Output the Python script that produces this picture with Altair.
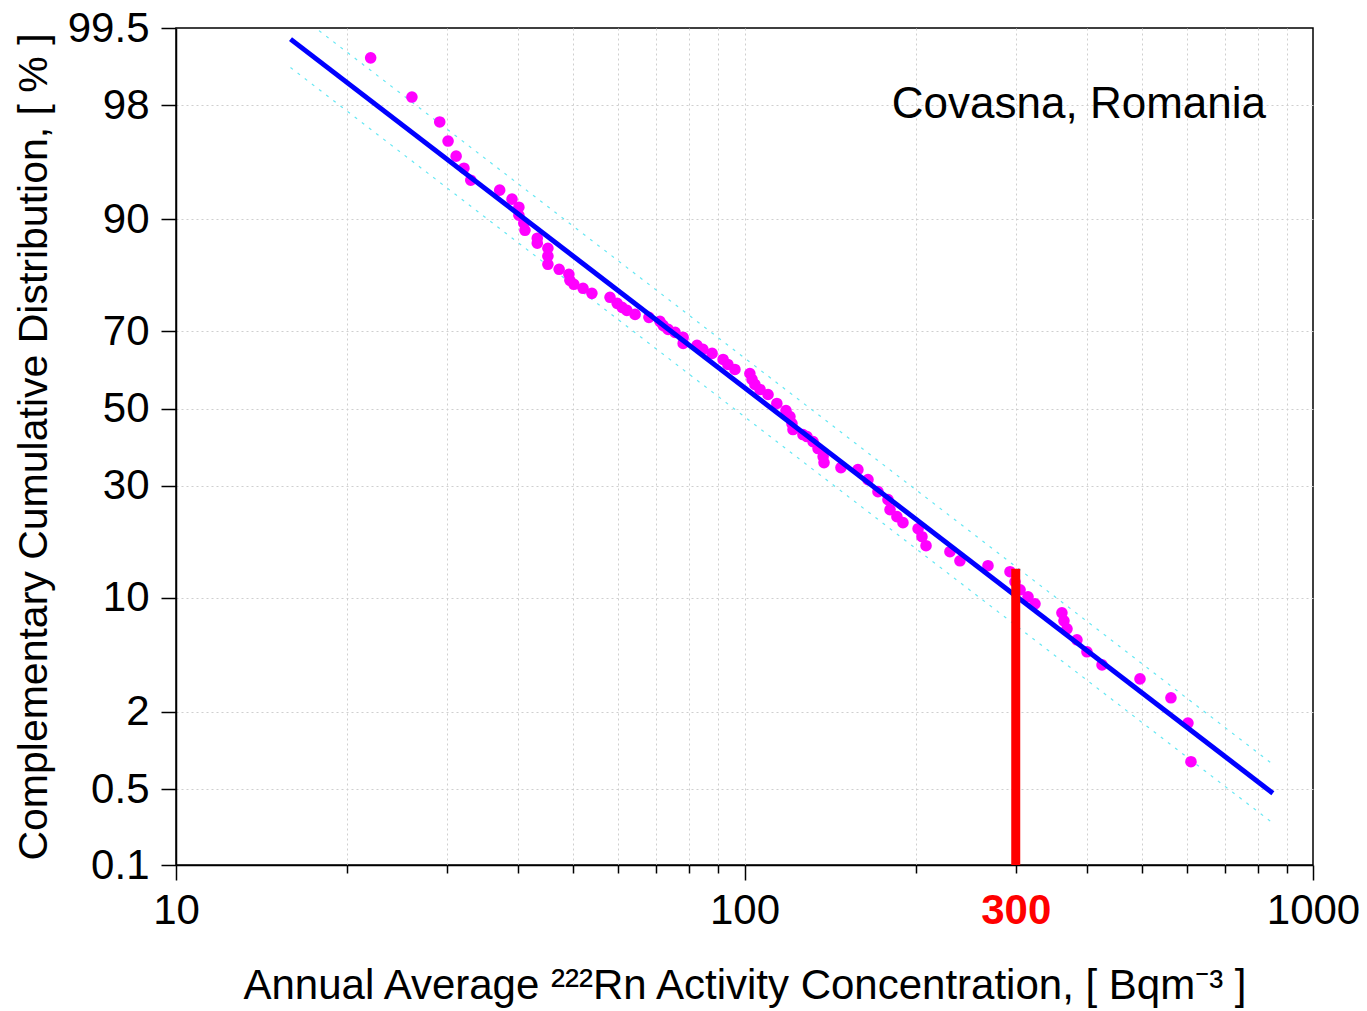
import math
import altair as alt
import pandas as pd

# ---- data ----
conc = [22.0, 26.0, 29.1, 30.1, 31.1, 32.1, 33.0, 37.1, 39.0, 40.1, 40.1, 40.9, 41.1,
        43.2, 43.2, 45.1, 45.1, 45.1, 47.2, 49.1, 49.3, 50.1, 52.0, 53.9, 58.0, 59.7,
        60.9, 62.1, 64.2, 67.9, 71.0, 71.9, 73.4, 75.5, 78.0, 78.0, 82.5, 84.5, 87.7,
        91.7, 93.5, 96.2, 102.2, 103.1, 104.3, 106.5, 110.0, 114.0, 118.3, 120.2, 121.2,
        121.7, 126.7, 128.8, 132.0, 134.7, 137.5, 138.0, 147.8, 158.3, 164.9, 171.7,
        178.8, 180.3, 185.4, 190.0, 202.0, 205.2, 208.6, 229.8, 239.3, 268.1, 293.1,
        299.1, 305.3, 315.3, 324.3, 361.7, 364.7, 369.2, 384.4, 400.3, 425.5, 496.2,
        562.5, 602.6, 610.0]
ccd = [99.12, 98.25, 97.38, 96.49, 95.62, 94.81, 93.89, 93.03, 92.18, 91.35, 90.46,
       89.51, 88.62, 87.55, 86.84, 86.10, 84.87, 83.55, 82.70, 81.81, 80.73, 79.98,
       79.21, 78.22, 77.42, 76.17, 75.33, 74.67, 73.80, 73.14, 72.24, 71.32, 70.39,
       69.68, 68.48, 67.03, 66.53, 65.54, 64.54, 63.01, 61.72, 60.42, 59.37, 57.79,
       56.46, 55.13, 53.78, 51.36, 49.46, 47.84, 45.95, 44.34, 43.01, 42.47, 41.14,
       39.32, 37.24, 35.72, 34.46, 33.95, 31.52, 28.68, 26.86, 24.67, 23.20, 21.98,
       20.79, 19.27, 17.65, 16.62, 15.13, 14.36, 13.46, 12.04, 10.99, 10.12, 9.31,
       8.33, 7.53, 6.79, 5.87, 4.98, 4.13, 3.36, 2.51, 1.66, 0.84]

fit_conc = [15.9, 850.0]
fit_ccd = [99.38, 0.46]
band_upper_ccd = [99.66, 0.80]
band_lower_ccd = [98.95, 0.25]

ref_conc = [300.0, 300.0]
ref_ccd = [0.1, 13.9]

y_tick_pct = [99.5, 98, 90, 70, 50, 30, 10, 2, 0.5, 0.1]
x_tick_vals = [10, 20, 30, 40, 50, 60, 70, 80, 90, 100, 200, 300, 400, 500, 600,
               700, 800, 900, 1000]
x_labelled = [10, 100, 300, 1000]
x_major = [10, 100, 1000]

annotation = "Covasna, Romania"
x_title = "Annual Average \u00b2\u00b2\u00b2Rn Activity Concentration, [ Bqm\u207b\u00b3 ]"
y_title = "Complementary Cumulative Distribution, [ % ]"


def probit(p):
    lo, hi = -10.0, 10.0
    for _ in range(200):
        mid = (lo + hi) / 2
        if 0.5 * (1 + math.erf(mid / math.sqrt(2))) < p:
            lo = mid
        else:
            hi = mid
    return (lo + hi) / 2


FONT = "Liberation Sans"
zcalc = "quantileNormal(datum.ccd / 100)"
major_test = "indexof(%s, datum.value) >= 0" % str(x_major)
y_top = probit(0.995)

xscale = alt.Scale(type="log", domain=[10, 1000], nice=False)
yscale = alt.Scale(domain=[probit(0.001), y_top], nice=False, zero=False)

xaxis = alt.Axis(
    values=x_tick_vals,
    labelExpr="indexof(%s, datum.value) >= 0 ? '' + datum.value : ''" % str(x_labelled),
    labelColor={"condition": {"test": "datum.value == 300", "value": "#ff0000"}, "value": "black"},
    labelFontWeight={"condition": {"test": "datum.value == 300", "value": "bold"}, "value": "normal"},
    tickSize={"condition": {"test": major_test, "value": 15}, "value": 8},
    labelPadding={"condition": {"test": major_test, "value": 10}, "value": 17},
    gridOpacity={"condition": {"test": "datum.value == 1000", "value": 0}, "value": 1},
    labelFlush=False,
    labelOverlap=False,
    title=x_title,
    titleFontSize=42,
    titlePadding=34,
)
yaxis = alt.Axis(
    values=[probit(v / 100) for v in y_tick_pct],
    labelExpr="'' + round(cumulativeNormal(datum.value) * 1000) / 10",
    gridOpacity={"condition": {"test": "datum.value > %f" % (y_top - 0.01), "value": 0}, "value": 1},
    tickSize=15,
    labelPadding=12,
    labelFlush=False,
    labelOverlap=False,
    title=y_title,
    titleFontSize=41,
    titlePadding=12,
)

X = alt.X("conc:Q", scale=xscale, axis=xaxis)
Y = alt.Y("z:Q", scale=yscale, axis=yaxis)

pts_df = pd.DataFrame({"conc": conc, "ccd": ccd})
fit_df = pd.DataFrame({"conc": fit_conc, "ccd": fit_ccd})
band_df = pd.DataFrame({
    "conc": fit_conc + fit_conc,
    "ccd": band_upper_ccd + band_lower_ccd,
    "band": ["upper", "upper", "lower", "lower"],
})
ref_df = pd.DataFrame({"conc": ref_conc, "ccd": ref_ccd})
txt_df = pd.DataFrame({"label": [annotation]})

bands = alt.Chart(band_df).transform_calculate(z=zcalc).mark_line(
    color="#66e8f4", strokeWidth=1.2, strokeDash=[3, 6], clip=True
).encode(x=X, y=Y, detail="band:N")

points = alt.Chart(pts_df).transform_calculate(z=zcalc).mark_circle(
    color="#ff00ff", opacity=1, size=135
).encode(x=X, y=Y)

fit = alt.Chart(fit_df).transform_calculate(z=zcalc).mark_line(
    color="#0000ff", strokeWidth=5
).encode(x=X, y=Y)

ref = alt.Chart(ref_df).transform_calculate(z=zcalc).mark_line(
    color="#ff0000", strokeWidth=9, strokeCap="butt"
).encode(x=X, y=Y)

txt = alt.Chart(txt_df).mark_text(
    font=FONT, fontSize=44, align="right", baseline="alphabetic", color="black"
).encode(x=alt.value(1090), y=alt.value(90), text="label:N")

chart = alt.layer(bands, points, fit, ref, txt).properties(
    width=1137,
    height=837,
    autosize=alt.AutoSizeParams(type="none"),
    padding={"left": 168, "top": 20, "right": 46, "bottom": 150},
).configure_view(
    stroke="black", strokeWidth=1.5
).configure_axis(
    domainColor="black", domainWidth=1.5,
    tickColor="black", tickWidth=1.5,
    gridColor="#cfcfcf", gridDash=[2, 3], gridWidth=1,
    labelFont=FONT, titleFont=FONT,
    labelFontSize=42, titleFontWeight="normal",
    labelColor="black", titleColor="black",
)

chart.save("out.html", embed_options={"renderer": "svg", "actions": False})
